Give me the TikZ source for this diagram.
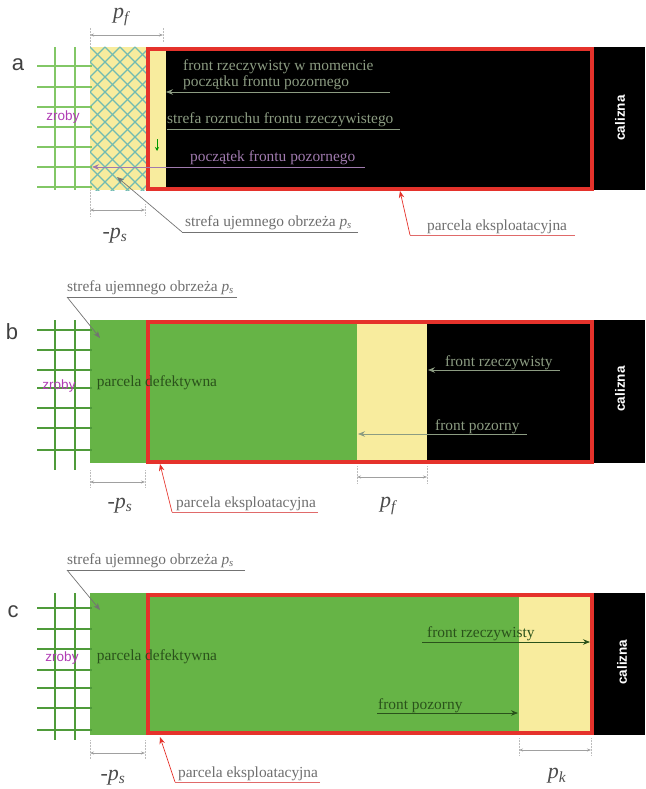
\documentclass[tikz,border=0pt]{standalone}
\usepackage{fontspec}
\setmainfont{Liberation Serif}
\setsansfont{Liberation Sans}
\usetikzlibrary{arrows.meta}
\definecolor{gridAc}{HTML}{82C766}
\definecolor{gridBc}{HTML}{4F9B3A}
\definecolor{greenc}{HTML}{66B446}
\definecolor{yellowc}{HTML}{F8EC9E}
\definecolor{redc}{HTML}{E5322B}
\definecolor{hatchc}{HTML}{72BBB2}
\definecolor{lblgray}{HTML}{6E6E6E}
\definecolor{dimgray}{HTML}{A0A0A0}
\definecolor{ingray}{HTML}{8C9C82}
\definecolor{purplec}{HTML}{A07AAE}
\definecolor{zrobyc}{HTML}{B03CB4}
\definecolor{dkgreen}{HTML}{2A521B}
\definecolor{pinkc}{HTML}{E06A6A}
\newcommand\lblfont{\fontsize{15.4}{16.5}\selectfont}
\newcommand\bigit{\fontsize{22}{22}\selectfont\itshape}
\begin{document}
\begin{tikzpicture}[x=1pt,y=-1pt,
  dimln/.style={draw=dimgray, line width=0.7pt, {Stealth[length=4pt,width=3pt]}-{Stealth[length=4pt,width=3pt]}},
  tickln/.style={draw=dimgray!70, line width=0.5pt, densely dotted},
  lbl/.style={font=\lblfont, text=lblgray, inner sep=0pt, anchor=base west},
  inlbl/.style={lbl, text=ingray},
  cl/.style={lbl, text=dkgreen},
  gridA/.style={draw=gridAc, line width=2pt},
  gridB/.style={draw=gridBc, line width=2pt},
  hatchln/.style={draw=hatchc, line width=1.4pt},
  redframe/.style={draw=redc, line width=4pt},
  panel/.style={font=\sffamily\fontsize{22}{22}\selectfont, text=black!75, inner sep=0pt},
  zroby/.style={font=\sffamily\fontsize{13.5}{13.5}\selectfont, text=zrobyc, inner sep=0pt},
  calizna/.style={font=\sffamily\bfseries\fontsize{13.5}{13.5}\selectfont, text=white, rotate=90, inner sep=0pt},
  dimlbl/.style={font=\bigit, text=black!70, inner sep=0pt},
  grayleader/.style={draw=black!55, line width=0.7pt},
  pinkleader/.style={draw=pinkc, line width=0.7pt},
  tipk/.style={-{Stealth[length=7pt,width=5.5pt]}},
]
\useasboundingbox (0,0) rectangle (645,789);

% ================= panel a =================
\fill[black] (147,47) rectangle (645,190);
\begin{scope}
  \clip (90,47) rectangle (147,190);
  \fill[yellowc] (90,47) rectangle (147,190);
  \foreach \k in {-10,...,14} {
    \draw[hatchln] (90+15*\k,47) -- ++(150,150);
    \draw[hatchln] (90+15*\k,47) -- ++(-150,150);
  }
\end{scope}
\foreach \yy in {66,87,107,127,147,167,187} \draw[gridA] (37,\yy) -- (92,\yy);
\foreach \xx in {55,75} \draw[gridA] (\xx,47) -- (\xx,190);
\fill[yellowc] (150,51) rectangle (166,187);
\draw[redframe] (148,49) rectangle (592,189);

\node[panel] (pa) at (18,65) {a};
\node[zroby] (za) at (63,117) {zroby};
\node[calizna] (ca) at (620,118) {calizna};

% p_f dimension (top)
\coordinate (pfa1) at (90,35); \coordinate (pfa2) at (163,35);
\coordinate (pfa1t) at (90,28); \coordinate (pfa1b) at (90,47);
\coordinate (pfa2t) at (163,28); \coordinate (pfa2b) at (163,42);
\draw[tickln] (pfa1t) -- (pfa1b); \draw[tickln] (pfa2t) -- (pfa2b);
\draw[dimln] (pfa1) -- (pfa2);
\node[dimlbl] (pfal) at (121,17) {p\textsubscript{f}};

% -p_s dimension
\coordinate (psa1) at (90,210); \coordinate (psa2) at (145,210);
\coordinate (psa1t) at (90,190); \coordinate (psa1b) at (90,216);
\coordinate (psa2t) at (145,204); \coordinate (psa2b) at (145,216);
\draw[tickln] (psa1t) -- (psa1b); \draw[tickln] (psa2t) -- (psa2b);
\draw[dimln] (psa1) -- (psa2);
\node[dimlbl] (psal) at (115,236) {-p\textsubscript{s}};

% texts inside black
\node[inlbl] (fa1) at (183,71) {front rzeczywisty w momencie};
\node[inlbl] (fa2) at (183,87) {początku frontu pozornego};
\coordinate (fa2r) at (390,92); \coordinate (fa2l) at (166,92);
\draw[draw=ingray, line width=0.8pt, tipk] (fa2r) -- (fa2l);

\node[inlbl] (sra) at (167,124) {strefa rozruchu frontu rzeczywistego};
\coordinate (sral) at (167,129); \coordinate (srar) at (400,129);
\draw[draw=ingray, line width=0.7pt] (sral) -- (srar);
\coordinate (gat) at (157,139); \coordinate (gab) at (157,151);
\draw[draw=green!60!black, line width=0.6pt, -{Stealth[length=4pt,width=4pt]}] (gat) -- (gab);

\node[lbl, text=purplec] (poa) at (190,161) {początek frontu pozornego};
\coordinate (poar) at (365,167); \coordinate (poal) at (92,167);
\draw[draw=purplec, line width=0.8pt, tipk] (poar) -- (poal);

% strefa ujemnego obrzeza (a)
\node[lbl] (sua) at (185,226) {strefa ujemnego obrzeża \textit{p}\textsubscript{\textit{s}}};
\coordinate (suar) at (358,232); \coordinate (sual) at (182,232); \coordinate (suat) at (117,177);
\draw[grayleader] (suar) -- (sual);
\draw[grayleader, tipk] (sual) -- (suat);

% parcela eksploatacyjna (a)
\node[lbl] (pea) at (427,230) {parcela eksploatacyjna};
\coordinate (pear) at (575,235); \coordinate (peal) at (410,235); \coordinate (peat) at (400,191);
\draw[pinkleader] (pear) -- (peal);
\draw[pinkleader, draw=redc, tipk] (peal) -- (peat);

% ================= panel b =================
\fill[greenc] (90,320) rectangle (357,463);
\fill[yellowc] (357,320) rectangle (427,463);
\fill[black] (427,320) rectangle (645,463);
\foreach \yy in {330,350,370,388,408,428,450} \draw[gridB] (37,\yy) -- (92,\yy);
\foreach \xx in {55,75} \draw[gridB] (\xx,320) -- (\xx,470);
\draw[redframe] (148,322) rectangle (592,462);

\node[panel] (pb) at (12,332) {b};
\node[zroby] (zb) at (59,386) {zroby};
\node[calizna] (cb) at (620,389) {calizna};
\node[lbl, text=dkgreen, anchor=center] (pdb) at (157,383) {parcela defektywna};

\node[inlbl] (frb) at (445,366) {front rzeczywisty};
\coordinate (frbr) at (560,370); \coordinate (frbl) at (428,370);
\draw[draw=ingray, line width=0.8pt, tipk] (frbr) -- (frbl);
\node[inlbl] (fpb) at (435,430) {front pozorny};
\coordinate (fpbr) at (527,434); \coordinate (fpbl) at (358,434);
\draw[draw=ingray, line width=0.8pt, tipk] (fpbr) -- (fpbl);

\node[lbl] (sub) at (67,291) {strefa ujemnego obrzeża \textit{p}\textsubscript{\textit{s}}};
\coordinate (subr) at (237,297); \coordinate (subl) at (67,297); \coordinate (subt) at (100,338);
\draw[grayleader] (subr) -- (subl);
\draw[grayleader, tipk] (subl) -- (subt);

\coordinate (psb1) at (90,482); \coordinate (psb2) at (145,482);
\coordinate (psb1t) at (90,470); \coordinate (psb1b) at (90,488);
\coordinate (psb2t) at (145,470); \coordinate (psb2b) at (145,488);
\draw[tickln] (psb1t) -- (psb1b); \draw[tickln] (psb2t) -- (psb2b);
\draw[dimln] (psb1) -- (psb2);
\node[dimlbl] (psbl) at (120,506) {-p\textsubscript{s}};

\coordinate (pfb1) at (357,477); \coordinate (pfb2) at (427,477);
\coordinate (pfb1t) at (357,466); \coordinate (pfb1b) at (357,484);
\coordinate (pfb2t) at (427,466); \coordinate (pfb2b) at (427,484);
\draw[tickln] (pfb1t) -- (pfb1b); \draw[tickln] (pfb2t) -- (pfb2b);
\draw[dimln] (pfb1) -- (pfb2);
\node[dimlbl] (pfbl) at (388,506) {p\textsubscript{f}};

\node[lbl] (peb) at (176,507) {parcela eksploatacyjna};
\coordinate (pebr) at (318,512); \coordinate (pebl) at (172,512); \coordinate (pebt) at (160,464);
\draw[pinkleader] (pebr) -- (pebl);
\draw[pinkleader, draw=redc, tipk] (pebl) -- (pebt);

% ================= panel c =================
\fill[greenc] (90,593) rectangle (519,735);
\fill[yellowc] (519,593) rectangle (592,735);
\fill[black] (592,593) rectangle (645,735);
\foreach \yy in {608,629,649,670,688,708,730} \draw[gridB] (37,\yy) -- (92,\yy);
\foreach \xx in {55,75} \draw[gridB] (\xx,593) -- (\xx,740);
\draw[redframe] (148,595) rectangle (592,733);

\node[panel] (pc) at (13,612) {c};
\node[zroby] (zc) at (62,658) {zroby};
\node[calizna] (cc) at (622,662) {calizna};
\node[lbl, text=dkgreen, anchor=center] (pdc) at (157,657) {parcela defektywna};

\node[cl] (frc) at (427,637) {front rzeczywisty};
\coordinate (frcl) at (422,642); \coordinate (frcr) at (590,642);
\draw[draw=dkgreen, line width=0.8pt, tipk] (frcl) -- (frcr);
\node[cl] (fpc) at (378,709) {front pozorny};
\coordinate (fpcl) at (377,713); \coordinate (fpcr) at (518,713);
\draw[draw=dkgreen, line width=0.8pt, tipk] (fpcl) -- (fpcr);

\node[lbl] (suc) at (67,564) {strefa ujemnego obrzeża \textit{p}\textsubscript{\textit{s}}};
\coordinate (sucr) at (245,570); \coordinate (sucl) at (67,570); \coordinate (suct) at (100,610);
\draw[grayleader] (sucr) -- (sucl);
\draw[grayleader, tipk] (sucl) -- (suct);

\coordinate (psc1) at (90,753); \coordinate (psc2) at (145,753);
\coordinate (psc1t) at (90,740); \coordinate (psc1b) at (90,759);
\coordinate (psc2t) at (145,740); \coordinate (psc2b) at (145,759);
\draw[tickln] (psc1t) -- (psc1b); \draw[tickln] (psc2t) -- (psc2b);
\draw[dimln] (psc1) -- (psc2);
\node[dimlbl] (pscl) at (113,778) {-p\textsubscript{s}};

\coordinate (pkc1) at (519,750); \coordinate (pkc2) at (591,750);
\coordinate (pkc1t) at (519,738); \coordinate (pkc1b) at (519,756);
\coordinate (pkc2t) at (591,738); \coordinate (pkc2b) at (591,756);
\draw[tickln] (pkc1t) -- (pkc1b); \draw[tickln] (pkc2t) -- (pkc2b);
\draw[dimln] (pkc1) -- (pkc2);
\node[dimlbl] (pkcl) at (557,776) {p\textsubscript{k}};

\node[lbl] (pec) at (178,777) {parcela eksploatacyjna};
\coordinate (pecr) at (320,782); \coordinate (pecl) at (175,782); \coordinate (pect) at (160,737);
\draw[pinkleader] (pecr) -- (pecl);
\draw[pinkleader, draw=redc, tipk] (pecl) -- (pect);
\end{tikzpicture}
\end{document}
